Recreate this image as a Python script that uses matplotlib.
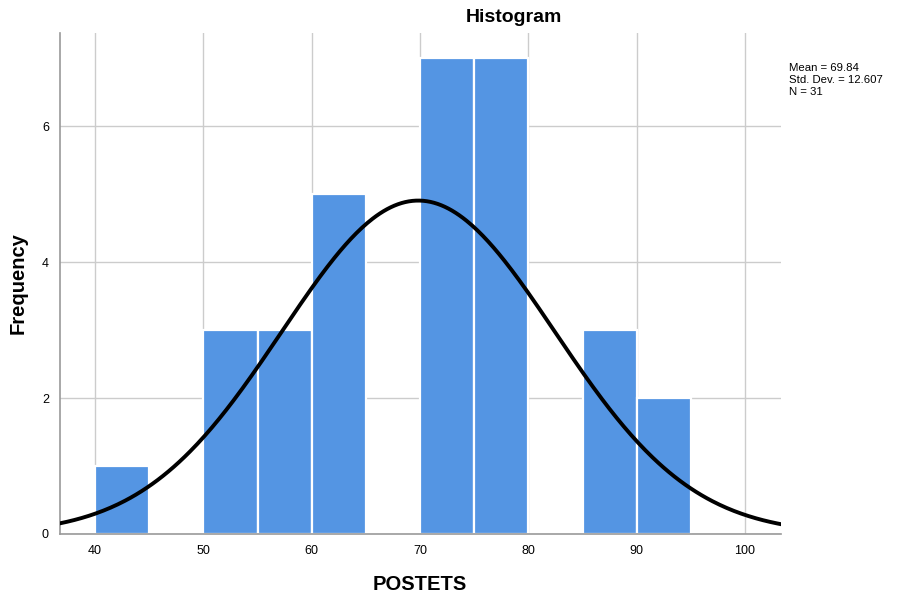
import numpy as np
import matplotlib
matplotlib.use("Agg")
import matplotlib.pyplot as plt

plt.rcParams['font.family'] = ['Liberation Sans', 'DejaVu Sans']

bin_edges = [40, 45, 50, 55, 60, 65, 70, 75, 80, 85, 90, 95]
counts = [1, 0, 3, 3, 5, 0, 7, 7, 0, 3, 2]
mean = 69.84
std = 12.607
n = 31
x_ticks = [40, 50, 60, 70, 80, 90, 100]
y_ticks = [0, 2, 4, 6]

fig = plt.figure(figsize=(9.03, 5.97), dpi=100)
ax = fig.add_axes([60/903, 1-534/597, (781-60)/903, (534-33)/597])

lefts = np.array(bin_edges[:-1])
widths = np.diff(bin_edges)
ax.bar(lefts, counts, width=widths, align='edge', color='#5495E3',
       edgecolor='white', linewidth=1.6, zorder=2)

xs = np.linspace(36.77, 103.32, 400)
binw = 5
ys = n * binw * np.exp(-0.5 * ((xs - mean) / std) ** 2) / (std * np.sqrt(2 * np.pi))
ax.plot(xs, ys, color='black', linewidth=2.8, zorder=3)

ax.set_xlim(36.77, 103.32)
ax.set_ylim(0, 7.37)
ax.set_xticks(x_ticks)
ax.set_yticks(y_ticks)
ax.grid(True, color='#CCCCCC', linewidth=1.0, zorder=0)
ax.set_axisbelow(True)
for s in ['top', 'right']:
    ax.spines[s].set_visible(False)
for s in ['left', 'bottom']:
    ax.spines[s].set_color('#999999')
    ax.spines[s].set_linewidth(1.2)
ax.tick_params(length=0, labelsize=9, colors='black', pad=8)

fig.text(514/903, 1-17/597, 'Histogram', ha='center', va='center',
         fontsize=14, fontweight='bold')
fig.text(420/903, 1-585/597, 'POSTETS', ha='center', va='center',
         fontsize=14.5, fontweight='bold')
fig.text(18/903, 1-283/597, 'Frequency', ha='center', va='center',
         fontsize=14.5, fontweight='bold', rotation=90)
fig.text(789/903, 1-80/597,
         f'Mean = {mean}\nStd. Dev. = {std}\nN = {n}',
         ha='left', va='center', fontsize=8.2, linespacing=1.2)

fig.savefig('out.png', dpi=100)
